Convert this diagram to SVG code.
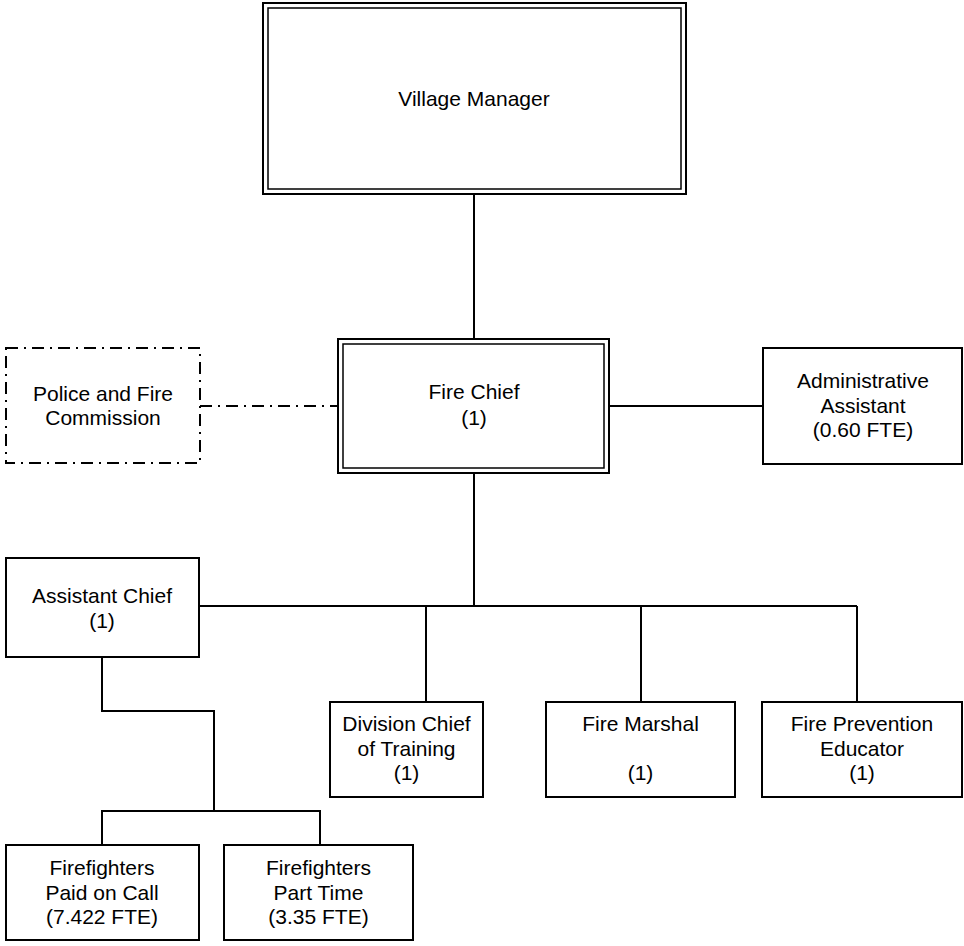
<svg xmlns="http://www.w3.org/2000/svg" width="964" height="946" viewBox="0 0 964 946">
  <style>
    .box { fill: #ffffff; stroke: #000000; stroke-width: 2; }
    .inner { fill: none; stroke: #000000; stroke-width: 1.5; }
    .dashbox { fill: #ffffff; stroke: #000000; stroke-width: 2; stroke-dasharray: 12 6 2 6; }
    .link { fill: none; stroke: #000000; stroke-width: 2; }
    .dashlink { fill: none; stroke: #000000; stroke-width: 2; stroke-dasharray: 12 6 2 6; }
    text { font-family: "Liberation Sans", Arial, sans-serif; font-size: 21px; fill: #000000; text-anchor: middle; }
  </style>
  <rect width="964" height="946" fill="#ffffff"/>

  <!-- connectors -->
  <g id="connectors">
    <line class="link" x1="474" y1="194" x2="474" y2="339"/>
    <line class="link" x1="609" y1="406" x2="763" y2="406"/>
    <line class="dashlink" x1="200" y1="406" x2="338" y2="406"/>
    <line class="link" x1="474" y1="473" x2="474" y2="606"/>
    <line class="link" x1="199" y1="606" x2="857" y2="606"/>
    <line class="link" x1="426" y1="606" x2="426" y2="702"/>
    <line class="link" x1="641" y1="606" x2="641" y2="702"/>
    <line class="link" x1="857" y1="606" x2="857" y2="702"/>
    <polyline class="link" points="102,657 102,711 214,711 214,811"/>
    <polyline class="link" points="102,845 102,811 320,811 320,845"/>
  </g>

  <g id="village-manager">
    <rect class="box" x="263" y="3" width="423" height="191"/>
    <rect class="inner" x="268" y="8" width="413" height="181"/>
    <text x="474" y="106">Village Manager</text>
  </g>

  <g id="fire-chief">
    <rect class="box" x="338" y="339" width="271" height="134"/>
    <rect class="inner" x="343" y="344" width="261" height="124"/>
    <text x="474" y="399">Fire Chief</text>
    <text x="474" y="425">(1)</text>
  </g>

  <g id="police-fire-commission">
    <rect class="dashbox" x="6" y="348" width="194" height="115"/>
    <text x="103" y="401">Police and Fire</text>
    <text x="103" y="425">Commission</text>
  </g>

  <g id="administrative-assistant">
    <rect class="box" x="763" y="348" width="199" height="116"/>
    <text x="863" y="388">Administrative</text>
    <text x="863" y="412.5">Assistant</text>
    <text x="863" y="437">(0.60 FTE)</text>
  </g>

  <g id="assistant-chief">
    <rect class="box" x="6" y="558" width="193" height="99"/>
    <text x="102" y="603">Assistant Chief</text>
    <text x="102" y="628">(1)</text>
  </g>

  <g id="division-chief">
    <rect class="box" x="330" y="702" width="153" height="95"/>
    <text x="406.5" y="731">Division Chief</text>
    <text x="406.5" y="755.5">of Training</text>
    <text x="406.5" y="780">(1)</text>
  </g>

  <g id="fire-marshal">
    <rect class="box" x="546" y="702" width="189" height="95"/>
    <text x="640.5" y="731">Fire Marshal</text>
    <text x="640.5" y="780">(1)</text>
  </g>

  <g id="fire-prevention-educator">
    <rect class="box" x="762" y="702" width="200" height="95"/>
    <text x="862" y="731">Fire Prevention</text>
    <text x="862" y="755.5">Educator</text>
    <text x="862" y="780">(1)</text>
  </g>

  <g id="firefighters-paid-on-call">
    <rect class="box" x="6" y="845" width="193" height="95"/>
    <text x="102" y="875">Firefighters</text>
    <text x="102" y="899.5">Paid on Call</text>
    <text x="102" y="924">(7.422 FTE)</text>
  </g>

  <g id="firefighters-part-time">
    <rect class="box" x="224" y="845" width="189" height="95"/>
    <text x="318.5" y="875">Firefighters</text>
    <text x="318.5" y="899.5">Part Time</text>
    <text x="318.5" y="924">(3.35 FTE)</text>
  </g>
</svg>
